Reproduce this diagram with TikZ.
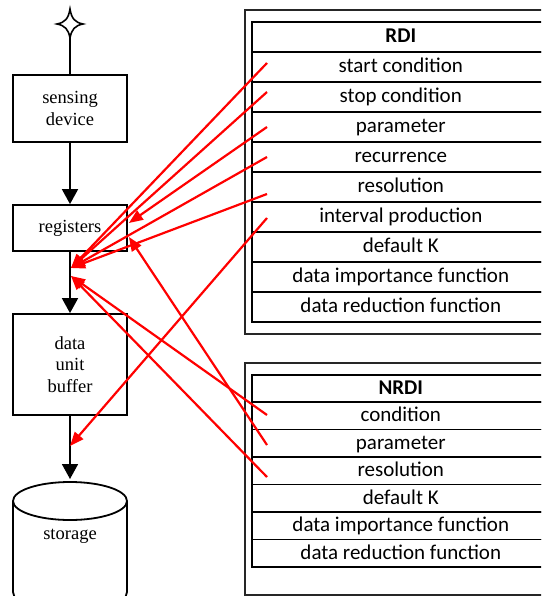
\documentclass[tikz,border=0pt]{standalone}
\usepackage{fontspec}
\setmainfont{Liberation Serif}
\newfontfamily\calib{Carlito}
\usetikzlibrary{arrows.meta,calc}
\begin{document}
\begin{tikzpicture}[x=1pt,y=-1pt,
  box/.style={draw, line width=1.8pt, minimum width=114pt, align=center, inner sep=0pt,
    font=\fontsize{18.5}{21.8}\selectfont},
  rowrdi/.style={draw, line width=1.6pt, minimum width=298pt, minimum height=30pt, anchor=north west,
    inner sep=0pt, text height=16pt, text depth=4pt, font=\calib\fontsize{21}{24}\selectfont},
  rownrdi/.style={rowrdi, minimum height=27.43pt},
  frame/.style={draw=black!85, line width=1.8pt},
  blackarrow/.style={line width=1.8pt, -{Triangle[length=15pt,width=16pt]}},
  redarrow/.style={draw=red, line width=2.2pt, -{Triangle[length=14pt,width=11pt]}, color=red}
]
\useasboundingbox (0,0) rectangle (541,596);
\clip (0,0) rectangle (541,596);

% star
\draw[line width=1.6pt, fill=white] (70,9) .. controls (71.5,18.5) and (75,22.5) .. (83,24)
  .. controls (75,25.5) and (71.5,29.5) .. (70,38)
  .. controls (68.5,29.5) and (65,25.5) .. (57,24)
  .. controls (65,22.5) and (68.5,18.5) .. (70,9) -- cycle;
\coordinate (sbot) at (70,38);

% left boxes
\node[box, minimum height=67pt] (sens) at (70,108.5) {sensing\\device};
\node[box, minimum height=46pt] (reg) at (70,228) {registers};
\node[box, minimum height=101pt] (dub) at (70,364.5) {data\\unit\\buffer};

% storage cylinder
\draw[line width=1.8pt] (13,501) -- (13,592) .. controls (13,617) and (127,617) .. (127,592) -- (127,501);
\draw[line width=1.8pt] (70,501) ellipse [x radius=57, y radius=19];
\node[font=\fontsize{18.5}{21.8}\selectfont] (stor) at (70,536) {storage};
\coordinate (sttop) at (70,479);

% black connectors
\draw[line width=1.8pt] (sbot) -- (sens.north);
\draw[blackarrow] (sens.south) -- (reg.north);
\draw[blackarrow] (reg.south) -- (dub.north);
\draw[blackarrow] (dub.south) -- (sttop);

% RDI table
\draw[frame] (245,10) rectangle (560,334);
\node[rowrdi] (rdi0) at (251,21) {\bfseries RDI};
\foreach \t [count=\i] in {start condition, stop condition, parameter, recurrence, resolution,
  interval production, default K, data importance function, data reduction function}
  \node[rowrdi] (rdi\i) at (251,{21+30*\i}) {\t};

% NRDI table
\draw[frame] (245,363) rectangle (560,595);
\node[rownrdi] (nrdi0) at (251,374) {\bfseries NRDI};
\foreach \t [count=\i] in {condition, parameter, resolution, default K,
  data importance function, data reduction function}
  \node[rownrdi] (nrdi\i) at (251,{374+27.43*\i}) {\t};

% red connector end points
\coordinate (a1) at (267,63);
\coordinate (a2) at (267,92);
\coordinate (a3) at (267,127);
\coordinate (a4) at (267,157);
\coordinate (a5) at (267,194);
\coordinate (a6) at (267,218);
\coordinate (b1) at (267,415);
\coordinate (b2) at (267,445);
\coordinate (b3) at (267,477);
\coordinate (c1) at (71,268);
\coordinate (c2) at (71,276);
\coordinate (r1) at ($(reg.east)+(1,-5)$);
\coordinate (r2) at ($(reg.east)+(1,9)$);
\coordinate (st) at (70,446);

% red connectors
\draw[redarrow] (a1) -- (c1);
\draw[redarrow] (a2) -- (c1);
\draw[redarrow] (a3) -- (r1);
\draw[redarrow] (a4) -- (c1);
\draw[redarrow] (a5) -- (c1);
\draw[redarrow] (a6) -- (st);
\draw[redarrow] (b1) -- (c2);
\draw[redarrow] (b2) -- (r2);
\draw[redarrow] (b3) -- (c2);
\end{tikzpicture}
\end{document}
